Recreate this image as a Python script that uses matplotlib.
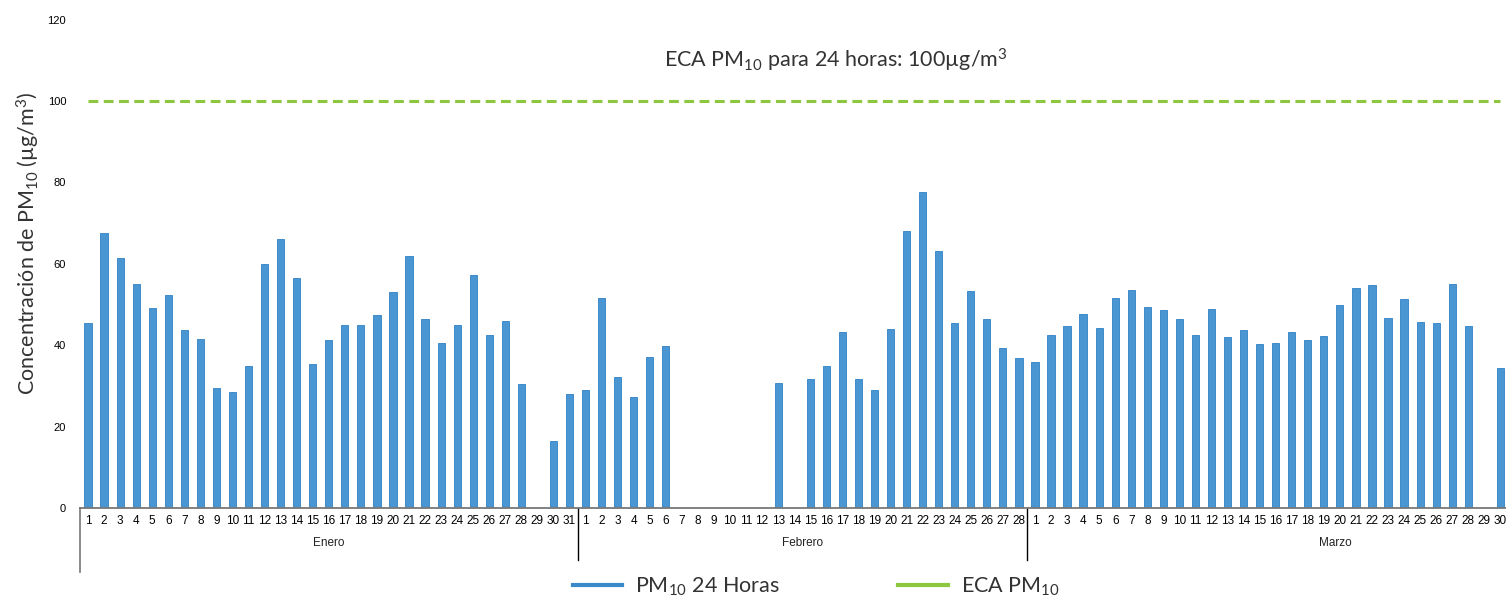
import matplotlib.pyplot as plt
import numpy as np
from matplotlib.lines import Line2D
import matplotlib.transforms as mtransforms

plt.rcParams['mathtext.fontset'] = 'custom'
plt.rcParams['mathtext.rm'] = 'Lato'
plt.rcParams['mathtext.default'] = 'regular'

months = ['Enero', 'Febrero', 'Marzo']
month_days = [31, 28, 30]

# PM10 24h values per day (None = no data)
enero = [45.5, 67.5, 61.4, 55.0, 49.1, 52.3, 43.7, 41.6, 29.5, 28.5,
         35.0, 60.0, 66.2, 56.5, 35.5, 41.2, 45.0, 44.9, 47.4, 53.1,
         61.9, 46.5, 40.5, 45.0, 57.2, 42.5, 45.9, 30.5, None, 16.5, 28.1]
febrero = [29.1, 51.6, 32.3, 27.3, 37.1, 39.8, None, None, None, None,
           None, None, 30.8, None, 31.8, 34.9, 43.3, 31.8, 29.1, 44.1,
           68.1, 77.6, 63.1, 45.5, 53.2, 46.5, 39.2, 36.9]
marzo = [35.8, 42.5, 44.6, 47.7, 44.2, 51.5, 53.5, 49.4, 48.6, 46.5,
         42.5, 48.9, 42.1, 43.7, 40.4, 40.5, 43.3, 41.4, 42.3, 49.9,
         54.1, 54.8, 46.8, 51.4, 45.8, 45.5, 55.0, 44.6, None, 34.5]
eca_limit = 100

values = enero + febrero + marzo
day_labels = [str(d) for n in month_days for d in range(1, n + 1)]
x = np.arange(len(values))
heights = [np.nan if v is None else v for v in values]

bar_color = '#4A96D2'
green = '#8DC63F'
text_color = '#333333'

fig = plt.figure(figsize=(15.06, 6.02), dpi=100)
ax = fig.add_axes([80 / 1506, 94 / 602, 1426 / 1506, 488.4 / 602])

ax.bar(x, heights, width=0.45, color=bar_color, edgecolor='#2E80C4', linewidth=0.6)
ax.plot(x, [eca_limit] * len(x), color=green, linestyle=(0, (3.2, 1.8)), linewidth=2.2)

ax.set_ylim(0, 120)
ax.set_xlim(-0.5, 88.35)
ax.set_yticks(range(0, 121, 20))
ax.tick_params(axis='y', length=0, pad=10, labelsize=8)
for lab in ax.get_yticklabels():
    lab.set_fontfamily('Liberation Sans')
ax.set_xticks(x)
ax.set_xticklabels(day_labels, fontsize=8.5, family='Liberation Sans')
ax.tick_params(axis='x', length=0, pad=5)

for s in ['top', 'right', 'left']:
    ax.spines[s].set_visible(False)
ax.spines['bottom'].set_color('#777777')
ax.spines['bottom'].set_linewidth(1.3)

# month group lines and labels
trans = mtransforms.blended_transform_factory(ax.transData, ax.transAxes)
ax.plot([-0.5, -0.5], [0, -0.131], transform=trans, color='#777777', lw=1.2, clip_on=False)
bounds = np.cumsum(month_days)
for b in bounds[:-1]:
    ax.plot([b - 0.5, b - 0.5], [0, -0.107], transform=trans, color='black', lw=1.0, clip_on=False)
starts = [0, bounds[0], bounds[1]]
centers = [(starts[0] + bounds[0] - 1) / 2, (starts[1] + bounds[1] - 1) / 2, 77.7]
for m, c in zip(months, centers):
    ax.text(c, -0.072, m, transform=trans, ha='center', va='center',
            fontsize=8.5, family='Liberation Sans', color='#222222')

fig.text(836 / 1506, 1 - 60 / 602, r'ECA PM$_{10}$ para 24 horas: 100µg/m$^{3}$',
         ha='center', va='center', fontsize=15.5, family='Lato', color=text_color)
fig.text(28 / 1506, 1 - 243 / 602, r'Concentración de PM$_{10}$ (µg/m$^{3}$)',
         rotation=90, ha='center', va='center', fontsize=15.5, family='Lato', color=text_color)

handles = [Line2D([], [], color='#3A8ACB', lw=3),
           Line2D([], [], color=green, lw=3)]
fig.legend(handles, [r'PM$_{10}$ 24 Horas', r'ECA PM$_{10}$'],
           loc='center', bbox_to_anchor=(816 / 1506, 1 - 587 / 602), ncol=2,
           frameon=False, handlelength=2.3, handletextpad=0.6, columnspacing=5.5,
           prop={'family': 'Lato', 'size': 15.5}, labelcolor=text_color)

plt.savefig('out.png', dpi=100)
